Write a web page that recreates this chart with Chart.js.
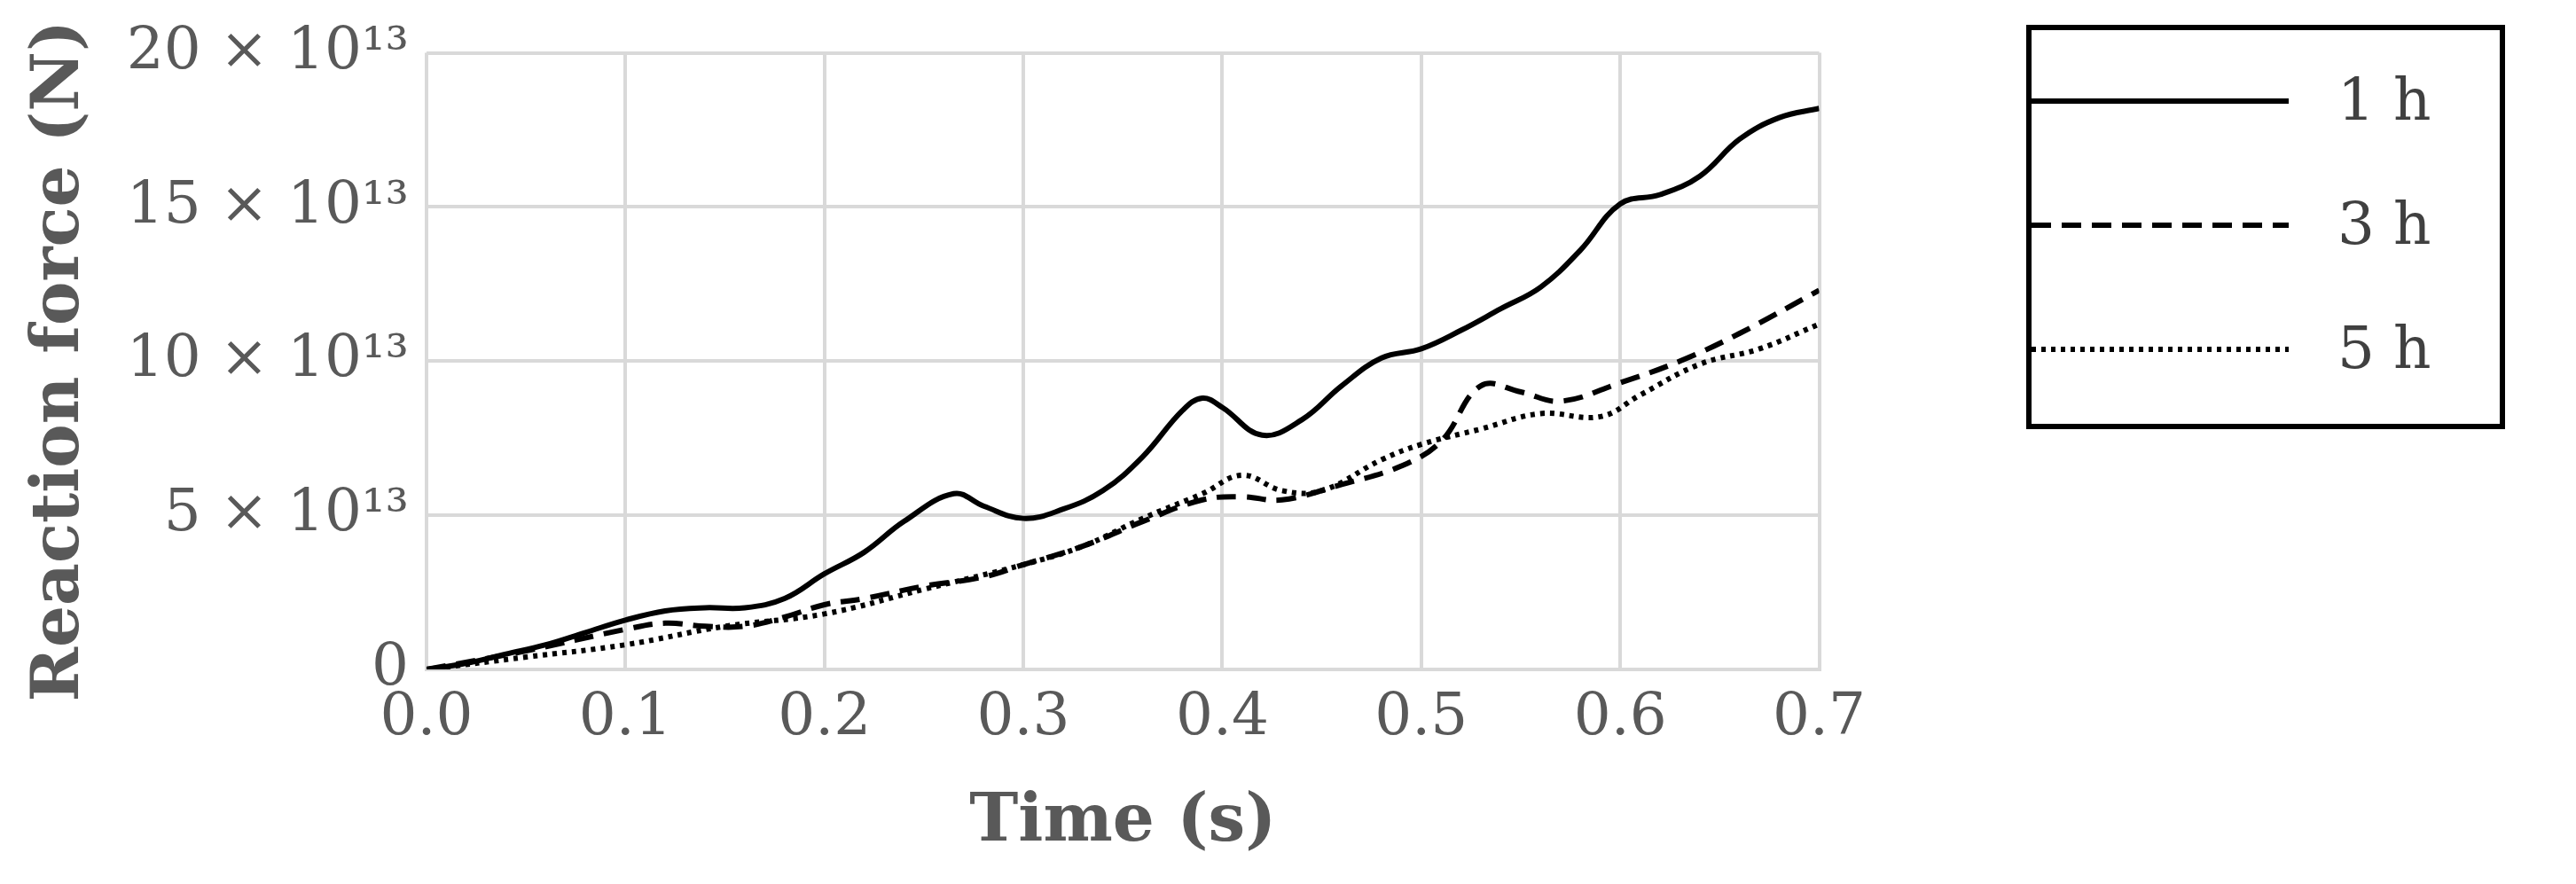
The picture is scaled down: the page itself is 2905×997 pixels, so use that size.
<!DOCTYPE html>
<html><head><meta charset="utf-8">
<script src="https://cdn.jsdelivr.net/npm/chart.js@4"></script>
<style>
body{margin:0;background:#fff;width:2905px;height:997px;position:relative;overflow:hidden}
#wrap{position:absolute;left:0;top:0;width:2120px;height:997px}
#legend{position:absolute;left:2285px;top:28px;width:528px;height:444px;border:6px solid #000;font-family:"DejaVu Serif","Liberation Serif",serif;font-size:66px;color:#404040}
.row{position:absolute;left:0;width:100%;height:100px}
.row svg{position:absolute;left:0;top:30px}
.row span{position:absolute;left:345px;top:0px}
</style></head><body>
<div id="wrap"><canvas id="c"></canvas></div>
<div id="legend">
 <div class="row" style="top:40px"><svg width="300" height="20"><line x1="0" y1="10" x2="290" y2="10" stroke="#000" stroke-width="6"/></svg><span>1 h</span></div>
 <div class="row" style="top:180px"><svg width="300" height="20"><line x1="0" y1="10" x2="290" y2="10" stroke="#000" stroke-width="6" stroke-dasharray="22 12"/></svg><span>3 h</span></div>
 <div class="row" style="top:320px"><svg width="300" height="20"><line x1="0" y1="10" x2="290" y2="10" stroke="#000" stroke-width="6" stroke-dasharray="5 6"/></svg><span>5 h</span></div>
</div>
<script>
// values in units of 10^13 N
const t1 = [0,0.02,0.04,0.06,0.08,0.1,0.12,0.14,0.16,0.18,0.2,0.22,0.24,0.265,0.28,0.3,0.32,0.34,0.36,0.38,0.39,0.4,0.42,0.44,0.46,0.48,0.5,0.52,0.54,0.56,0.58,0.6,0.62,0.64,0.66,0.68,0.7];
const f1 = [0,0.2,0.5,0.8,1.2,1.6,1.9,2.0,2.0,2.3,3.1,3.8,4.8,5.7,5.3,4.9,5.2,5.8,6.9,8.4,8.8,8.5,7.6,8.1,9.2,10.1,10.4,11.0,11.7,12.4,13.6,15.1,15.4,16.0,17.2,17.9,18.2];
const t3 = [0,0.05,0.1,0.12,0.14,0.16,0.18,0.2,0.22,0.25,0.28,0.3,0.33,0.36,0.39,0.41,0.43,0.46,0.49,0.51,0.53,0.55,0.57,0.6,0.63,0.66,0.7];
const f3 = [0,0.6,1.3,1.5,1.4,1.4,1.7,2.1,2.3,2.7,3.0,3.4,4.0,4.8,5.5,5.6,5.5,6.0,6.6,7.4,9.2,9.0,8.7,9.3,10.0,10.9,12.3];
const t5 = [0,0.05,0.1,0.15,0.2,0.25,0.3,0.33,0.36,0.39,0.41,0.43,0.45,0.48,0.5,0.53,0.56,0.59,0.61,0.64,0.67,0.7];
const f5 = [0,0.4,0.8,1.4,1.8,2.6,3.4,4.0,4.9,5.7,6.3,5.8,5.8,6.8,7.3,7.8,8.3,8.2,8.9,9.9,10.4,11.2];
const yTicks = ['0','5 × 10¹³','10 × 10¹³','15 × 10¹³','20 × 10¹³'];

const pts = (t, f) => t.map((x, i) => ({ x, y: f[i] }));
const grey = '#595959';
const font = { family: '"DejaVu Serif","Liberation Serif",serif', size: 66 };

new Chart(document.getElementById('c'), {
  type: 'line',
  data: { datasets: [
    { label: '1 h', data: pts(t1, f1), borderColor: '#000', borderWidth: 6, pointRadius: 0, tension: 0.4 },
    { label: '3 h', data: pts(t3, f3), borderColor: '#000', borderWidth: 6, borderDash: [22, 12], pointRadius: 0, tension: 0.4 },
    { label: '5 h', data: pts(t5, f5), borderColor: '#000', borderWidth: 6, borderDash: [5, 6], pointRadius: 0, tension: 0.4 }
  ]},
  options: {
    responsive: true, maintainAspectRatio: false, animation: false,
    layout: { padding: { top: 45, right: 40, left: 20, bottom: 20 } },
    plugins: { legend: { display: false }, tooltip: { enabled: false } },
    scales: {
      x: { type: 'linear', min: 0, max: 0.7,
        grid: { color: '#d9d9d9', lineWidth: 4, drawTicks: false },
        border: { color: '#d9d9d9', width: 4 },
        ticks: { stepSize: 0.1, padding: 16, color: grey, font, callback: v => v.toFixed(1) },
        title: { display: true, text: 'Time (s)', color: grey, font: { ...font, size: 74, weight: 'bold' }, padding: { top: 18 } } },
      y: { min: 0, max: 20,
        grid: { color: '#d9d9d9', lineWidth: 4, drawTicks: false },
        border: { display: false },
        ticks: { stepSize: 5, padding: 20, color: grey, font, callback: v => yTicks[v / 5] },
        title: { display: true, text: 'Reaction force (N)', color: grey, font: { ...font, size: 74, weight: 'bold' }, padding: { bottom: 10 } } }
    }
  }
});
</script>
</body></html>
